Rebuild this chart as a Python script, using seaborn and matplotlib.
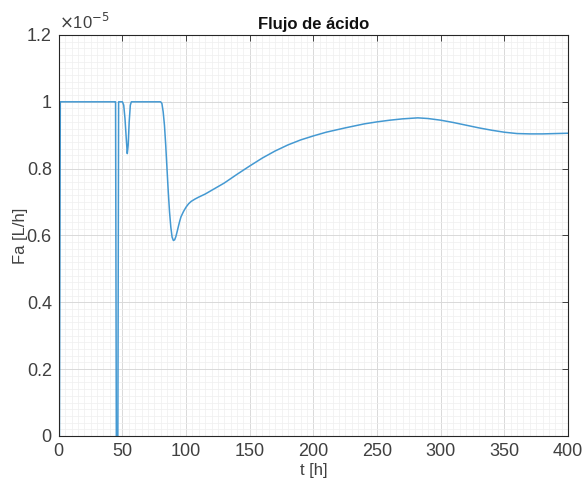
import numpy as np
import pandas as pd
import matplotlib
matplotlib.use("Agg")
import matplotlib.pyplot as plt
import seaborn as sns
from matplotlib.ticker import MultipleLocator, AutoMinorLocator, FuncFormatter

# Time [h] and acid flow [L/h]
t_h = [0, 0.5, 1.2, 2, 44, 44.6, 45.2, 46.4, 47.0, 48.5, 50, 51, 52, 53, 53.8, 54.5, 55.3, 56.2, 57, 58,
       79, 80, 81, 82, 83, 84, 85, 86, 87, 88, 89, 90, 91, 92, 93, 94, 95, 96, 98, 100, 102, 104,
       107, 110, 115, 120, 130, 140, 150, 160, 170, 180, 190, 200, 210, 225, 240, 250, 260, 270,
       282, 290, 300, 310, 320, 330, 340, 350, 360, 370, 380, 390, 400]
fa_e5 = [0, 0, 1, 1, 1, 1, 0, 0, 1, 1, 1, 0.99, 0.95, 0.89, 0.845, 0.87, 0.94, 0.99, 1, 1,
         1, 1, 0.995, 0.97, 0.93, 0.87, 0.80, 0.73, 0.67, 0.625, 0.595, 0.585, 0.587, 0.597, 0.612,
         0.628, 0.643, 0.656, 0.672, 0.685, 0.695, 0.702,
         0.709, 0.715, 0.724, 0.735, 0.757, 0.783, 0.808, 0.832, 0.853, 0.871, 0.886, 0.898, 0.909,
         0.922, 0.934, 0.940, 0.945, 0.949, 0.952, 0.950, 0.945, 0.938, 0.930, 0.922, 0.915, 0.909,
         0.905, 0.904, 0.904, 0.905, 0.906]

df = pd.DataFrame({"t": t_h, "Fa": np.array(fa_e5) * 1e-5})

sns.set_style("white")
plt.rcParams['font.family'] = ['Liberation Sans', 'DejaVu Sans']

fig = plt.figure(figsize=(5.82, 4.86), dpi=100)
ax = fig.add_axes([0.101, 0.103, 0.875, 0.825])

sns.lineplot(data=df, x="t", y="Fa", ax=ax, color="#4499d2", linewidth=1.1,
             estimator=None, sort=False)

ax.set_xlim(0, 400)
ax.set_ylim(0, 1.2e-5)
ax.xaxis.set_major_locator(MultipleLocator(50))
ax.yaxis.set_major_locator(MultipleLocator(0.2e-5))
ax.xaxis.set_minor_locator(AutoMinorLocator(10))
ax.yaxis.set_minor_locator(AutoMinorLocator(10))
ax.yaxis.set_major_formatter(FuncFormatter(lambda v, p: f"{round(v / 1e-5, 6):g}"))

ax.text(0.0, 1.008, r"$\times$10$^{-5}$", transform=ax.transAxes, ha="left", va="bottom",
        fontsize=12, color="#404040")

ax.grid(which="major", color="#d9d9d9", linewidth=0.7)
ax.grid(which="minor", color="#efefef", linewidth=0.5)
ax.set_axisbelow(True)

for s in ax.spines.values():
    s.set_color("#262626")
    s.set_linewidth(0.8)

ax.tick_params(which="major", direction="in", length=4, top=True, right=True,
               labelsize=13, colors="#404040", width=0.7, pad=5)
ax.tick_params(which="minor", length=0, top=False, right=False)

ax.set_xlabel("t [h]", fontsize=12, color="#404040", labelpad=2)
ax.set_ylabel("Fa [L/h]", fontsize=12, color="#404040")
ax.yaxis.set_label_coords(-0.061, 0.5)
ax.set_title("Flujo de ácido", fontsize=12, fontweight="bold", color="#111111", pad=4)

fig.savefig("out.png", dpi=100)
